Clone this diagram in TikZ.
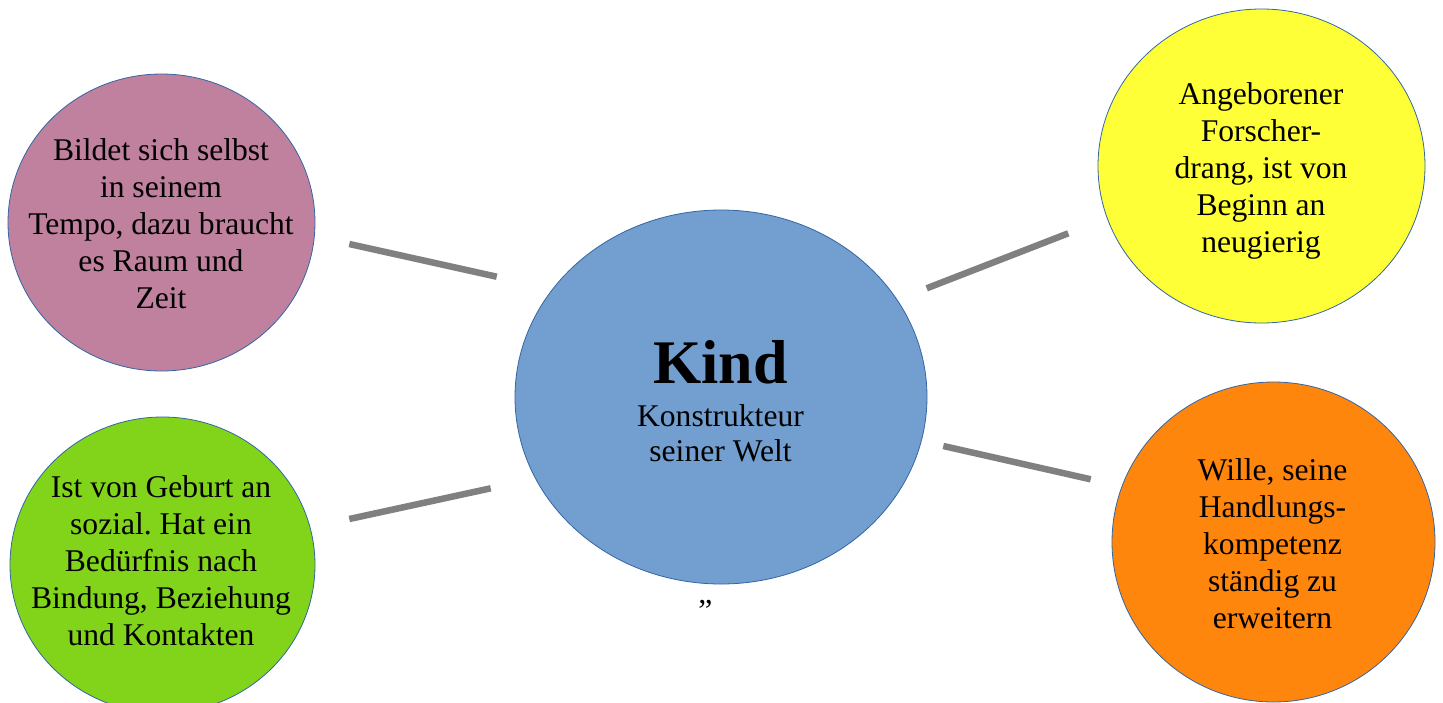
\documentclass[tikz,border=0pt]{standalone}
\usepackage{fontspec}
\setmainfont{Liberation Serif}
\frenchspacing
\usetikzlibrary{shapes.geometric}
\definecolor{mauve}{RGB}{191,129,158}
\definecolor{lime}{RGB}{129,212,26}
\definecolor{lyellow}{RGB}{255,255,56}
\definecolor{lorange}{RGB}{255,134,13}
\definecolor{kindblue}{RGB}{114,159,207}
\definecolor{edgeblue}{RGB}{52,101,164}
\definecolor{linkgray}{RGB}{128,128,128}
\begin{document}
\begin{tikzpicture}[x=1pt,y=-1pt,
  bubble/.style={ellipse, draw=edgeblue, line width=0.8pt, inner sep=0pt},
  txt/.style={align=center, font=\fontsize{31.6}{37}\selectfont, inner sep=0pt, anchor=base},
  link/.style={draw=linkgray, line width=6.5pt}]
\useasboundingbox (0,0) rectangle (1443,702);
\clip (0,0) rectangle (1443,702);
\fill[white] (0,0) rectangle (1443,702);

% bubbles
\node[bubble, fill=kindblue, minimum width=412pt, minimum height=374pt] (kind) at (721,397) {};
\node[bubble, fill=mauve, minimum width=307pt, minimum height=297pt] (selbst) at (161.5,222.5) {};
\node[bubble, fill=lime, minimum width=305pt, minimum height=296pt] (sozial) at (162.5,565) {};
\node[bubble, fill=lyellow, minimum width=327pt, minimum height=314pt] (forscher) at (1261.5,166) {};
\node[bubble, fill=lorange, minimum width=323pt, minimum height=320pt] (wille) at (1273.5,542) {};

% texts (anchor base = baseline of last line)
\node[txt, font=\fontsize{62}{70}\selectfont\bfseries] (kindt) at (720.5,383) {Kind};
\node[txt, font=\fontsize{31.6}{35}\selectfont] (kindsub) at (720.5,461.7) {Konstrukteur\\seiner Welt};
\node[txt] (selbstt) at (161,308.3) {Bildet sich selbst\\in seinem\\Tempo, dazu braucht\\es Raum und\\Zeit};
\node[txt] (sozialt) at (161,645) {Ist von Geburt an\\sozial. Hat ein\\Bedürfnis nach\\Bindung, Beziehung\\und Kontakten};
\node[txt] (forschert) at (1261,252.3) {Angeborener\\Forscher-\\drang, ist von\\Beginn an\\neugierig};
\node[txt] (willet) at (1272.5,628.3) {Wille, seine\\Handlungs-\\kompetenz\\ständig zu\\erweitern};
\node[inner sep=0pt, font=\fontsize{31.6}{37}\selectfont] (quote) at (705.5,604.5) {„};

% connector ends
\coordinate (a1) at (349.3,244);   \coordinate (a2) at (496.7,276.7);
\coordinate (b1) at (349.3,519);   \coordinate (b2) at (490.7,488.3);
\coordinate (c1) at (926.7,288.3); \coordinate (c2) at (1068.3,233.3);
\coordinate (d1) at (943.3,446);   \coordinate (d2) at (1090.7,479.3);
\draw[link] (a1) -- (a2);
\draw[link] (b1) -- (b2);
\draw[link] (c1) -- (c2);
\draw[link] (d1) -- (d2);
\end{tikzpicture}
\end{document}
